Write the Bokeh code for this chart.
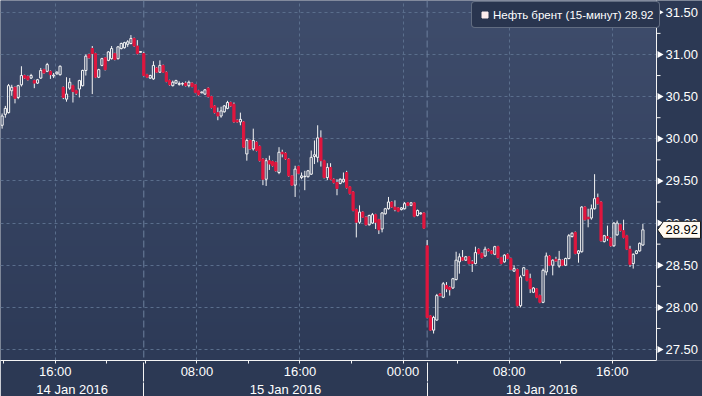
import math
import numpy as np
from bokeh.plotting import figure
from bokeh.models import (Range1d, LinearAxis, FixedTicker, Span, Legend, LegendItem)
from bokeh.core.properties import value
from bokeh.embed import file_html
from bokeh.resources import INLINE

# ---------------- data (open, high, low, close), 15-minute bars ----------------
jan14 = [
    (30.16, 30.30, 30.12, 30.27), (30.29, 30.39, 30.25, 30.36), (30.31, 30.65, 30.30, 30.63),
    (30.57, 30.64, 30.51, 30.61), (30.61, 30.62, 30.42, 30.48), (30.49, 30.64, 30.47, 30.63),
    (30.64, 30.86, 30.62, 30.75), (30.75, 30.76, 30.71, 30.72), (30.74, 30.75, 30.69, 30.70),
    (30.72, 30.77, 30.71, 30.75), (30.69, 30.70, 30.60, 30.66), (30.66, 30.71, 30.65, 30.70),
    (30.72, 30.84, 30.71, 30.81), (30.82, 30.83, 30.77, 30.78), (30.80, 30.90, 30.79, 30.88),
    (30.80, 30.81, 30.71, 30.76), (30.745, 30.78, 30.72, 30.755), (30.77, 30.80, 30.76, 30.79),
    (30.76, 30.87, 30.75, 30.86), (30.61, 30.62, 30.47, 30.49), (30.47, 30.73, 30.44, 30.53),
    (30.60, 30.72, 30.58, 30.67), (30.63, 30.64, 30.43, 30.56), (30.57, 30.58, 30.52, 30.54),
    (30.59, 30.70, 30.49, 30.69), (30.63, 30.82, 30.62, 30.81), (30.81, 31.00, 30.75, 30.98),
    (31.00, 31.01, 30.95, 30.96), (31.07, 31.10, 30.53, 31.01), (31.01, 31.02, 30.72, 30.73),
    (30.73, 30.83, 30.72, 30.82), (30.87, 30.96, 30.86, 30.95), (30.96, 30.97, 30.81, 30.82),
    (30.93, 31.04, 30.92, 31.03), (30.95, 31.10, 30.94, 31.07), (31.01, 31.02, 30.93, 30.94),
    (30.95, 31.10, 30.94, 31.09), (31.07, 31.14, 31.06, 31.13), (31.08, 31.15, 31.07, 31.14),
    (31.12, 31.17, 31.09, 31.15), (31.13, 31.23, 31.12, 31.19), (31.19, 31.20, 31.09, 31.10),
    (31.10, 31.17, 31.00, 31.01), (31.025, 31.04, 31.02, 31.035),
]
jan15 = [
    (31.01, 31.03, 30.74, 30.75), (30.76, 30.77, 30.72, 30.73), (30.72, 30.76, 30.71, 30.75),
    (30.71, 30.92, 30.70, 30.87), (30.84, 30.85, 30.78, 30.79), (30.79, 30.93, 30.78, 30.87),
    (30.87, 30.88, 30.78, 30.79), (30.79, 30.80, 30.67, 30.68), (30.69, 30.70, 30.63, 30.64),
    (30.63, 30.69, 30.62, 30.67), (30.66, 30.70, 30.65, 30.69), (30.645, 30.68, 30.63, 30.655),
    (30.65, 30.67, 30.63, 30.655), (30.66, 30.68, 30.62, 30.63), (30.63, 30.69, 30.61, 30.67),
    (30.66, 30.67, 30.61, 30.62), (30.64, 30.65, 30.54, 30.55), (30.57, 30.58, 30.51, 30.52),
    (30.545, 30.56, 30.54, 30.555), (30.53, 30.59, 30.52, 30.58), (30.60, 30.61, 30.49, 30.50),
    (30.50, 30.51, 30.36, 30.37), (30.39, 30.40, 30.30, 30.31), (30.31, 30.37, 30.22, 30.27),
    (30.27, 30.38, 30.25, 30.33), (30.32, 30.40, 30.31, 30.39), (30.36, 30.45, 30.35, 30.43),
    (30.43, 30.44, 30.38, 30.39), (30.41, 30.43, 30.19, 30.20), (30.22, 30.23, 30.19, 30.20),
    (30.20, 30.31, 30.16, 30.23), (30.20, 30.21, 29.89, 29.90), (29.82, 30.00, 29.74, 29.98),
    (29.98, 29.99, 29.87, 29.88), (29.88, 30.12, 29.86, 29.98), (29.96, 29.97, 29.85, 29.86),
    (29.91, 29.92, 29.73, 29.74), (29.76, 29.77, 29.45, 29.52), (29.52, 29.77, 29.44, 29.74),
    (29.74, 29.80, 29.63, 29.70), (29.73, 29.74, 29.67, 29.68), (29.72, 29.73, 29.61, 29.62),
    (29.60, 29.90, 29.58, 29.84), (29.84, 29.87, 29.78, 29.82), (29.83, 29.84, 29.75, 29.76),
    (29.76, 29.77, 29.55, 29.56), (29.56, 29.57, 29.44, 29.45), (29.45, 29.68, 29.31, 29.64),
    (29.67, 29.68, 29.58, 29.59), (29.54, 29.60, 29.52, 29.56), (29.55, 29.62, 29.39, 29.555),
    (29.55, 29.63, 29.54, 29.62), (29.58, 29.86, 29.57, 29.78), (29.79, 29.98, 29.70, 29.81),
    (29.78, 30.16, 29.72, 30.01), (30.01, 30.10, 29.67, 29.74), (29.74, 29.75, 29.53, 29.54),
    (29.54, 29.71, 29.51, 29.66), (29.66, 29.71, 29.51, 29.52), (29.52, 29.53, 29.47, 29.48),
    (29.48, 29.52, 29.33, 29.41), (29.47, 29.53, 29.46, 29.52), (29.49, 29.60, 29.48, 29.52),
    (29.60, 29.62, 29.41, 29.42), (29.43, 29.44, 29.34, 29.35), (29.37, 29.38, 29.14, 29.15),
    (29.16, 29.17, 28.83, 29.01), (29.01, 29.21, 28.99, 29.13), (29.13, 29.14, 29.06, 29.07),
    (29.07, 29.08, 28.97, 28.98), (28.98, 29.10, 28.97, 29.09), (29.00, 29.12, 28.99, 29.10),
    (29.10, 29.11, 28.93, 29.01), (29.04, 29.05, 28.87, 28.92), (28.93, 29.13, 28.89, 29.12),
    (29.11, 29.18, 29.10, 29.17), (29.17, 29.31, 29.16, 29.25), (29.25, 29.26, 29.18, 29.19),
    (29.19, 29.27, 29.14, 29.16), (29.18, 29.19, 29.13, 29.14), (29.16, 29.19, 29.15, 29.18),
    (29.17, 29.25, 29.16, 29.23), (29.24, 29.25, 29.20, 29.21), (29.21, 29.25, 29.20, 29.24),
    (29.24, 29.25, 29.07, 29.08), (29.09, 29.16, 29.08, 29.15), (29.11, 29.13, 29.10, 29.12),
    (29.12, 29.13, 28.93, 28.94),
]
jan18 = [
    (28.73, 28.80, 27.87, 27.88), (27.90, 27.91, 27.72, 27.73), (27.73, 27.90, 27.69, 27.88),
    (27.85, 28.16, 27.84, 28.14), (28.16, 28.17, 28.13, 28.14), (28.12, 28.30, 28.11, 28.28),
    (28.26, 28.30, 28.18, 28.22), (28.24, 28.25, 28.14, 28.21), (28.23, 28.35, 28.22, 28.34),
    (28.33, 28.66, 28.32, 28.56), (28.54, 28.64, 28.40, 28.60), (28.59, 28.68, 28.55, 28.56),
    (28.56, 28.61, 28.55, 28.60), (28.60, 28.61, 28.51, 28.52), (28.54, 28.56, 28.42, 28.52),
    (28.52, 28.72, 28.51, 28.65), (28.69, 28.70, 28.63, 28.64), (28.64, 28.65, 28.58, 28.59),
    (28.61, 28.72, 28.60, 28.69), (28.69, 28.70, 28.66, 28.67), (28.67, 28.68, 28.63, 28.64),
    (28.63, 28.73, 28.62, 28.72), (28.72, 28.73, 28.58, 28.59), (28.59, 28.60, 28.51, 28.52),
    (28.54, 28.63, 28.53, 28.62), (28.63, 28.64, 28.57, 28.58), (28.58, 28.59, 28.44, 28.45),
    (28.43, 28.50, 28.42, 28.46), (28.45, 28.46, 28.01, 28.02), (28.02, 28.38, 28.00, 28.36),
    (28.38, 28.48, 28.37, 28.47), (28.44, 28.45, 28.31, 28.32), (28.34, 28.40, 28.17, 28.22),
    (28.18, 28.24, 28.17, 28.23), (28.22, 28.23, 28.11, 28.12), (28.14, 28.15, 28.05, 28.06),
    (28.06, 28.46, 28.05, 28.44), (28.42, 28.65, 28.38, 28.61), (28.61, 28.62, 28.49, 28.50),
    (28.50, 28.57, 28.38, 28.56), (28.57, 28.60, 28.54, 28.55), (28.49, 28.67, 28.47, 28.57),
    (28.56, 28.57, 28.49, 28.50), (28.50, 28.59, 28.49, 28.58), (28.58, 28.87, 28.57, 28.85),
    (28.84, 28.89, 28.83, 28.88), (28.89, 28.90, 28.63, 28.64), (28.64, 28.68, 28.53, 28.67),
    (28.66, 29.20, 28.65, 29.19), (29.19, 29.20, 29.03, 29.04), (29.07, 29.17, 28.95, 29.05),
    (29.06, 29.22, 29.04, 29.17), (29.17, 29.58, 29.16, 29.29), (29.30, 29.35, 29.22, 29.23),
    (29.25, 29.26, 28.78, 28.79), (28.78, 28.86, 28.77, 28.85), (28.84, 28.97, 28.79, 28.82),
    (28.82, 28.83, 28.72, 28.73), (28.73, 29.01, 28.72, 29.00), (28.86, 29.03, 28.85, 29.00),
    (28.98, 28.99, 28.90, 28.91), (28.91, 29.04, 28.82, 28.83), (28.85, 28.86, 28.68, 28.69),
    (28.69, 28.73, 28.48, 28.51), (28.52, 28.64, 28.46, 28.63), (28.64, 28.68, 28.63, 28.67),
    (28.67, 28.77, 28.66, 28.76), (28.74, 28.99, 28.73, 28.92),
]
session_names = ["14 Jan 2016", "15 Jan 2016", "18 Jan 2016"]
session_start_hours = [11.75, 3.75, 1.5]      # time of the first 15-minute bar
y_ticks = [27.5, 28.0, 28.5, 29.0, 29.5, 30.0, 30.5, 31.0, 31.5]
series_name = "Нефть брент (15-минут)"

# ---------------- geometry / style ----------------
W = 702
PW, FH = 656, 360           # plot area (left of the price scale)
BAR_PX = 3.22
x_lo = -0.5
y_lo, y_hi = 27.37, 31.64
FONT = "Liberation Sans"
WHITE = "#f4f4f4"
RED = "#e0163e"
GRID = "#5a6e8c"
BORDER = "#2c3954"


def xd(px):
    return x_lo + px / BAR_PX


def yd(px):
    return (y_hi - y_lo) * px / FH


x_plot_hi = xd(PW)
x_hi = xd(W)

sessions = [jan14, jan15, jan18]
rows = [r for s in sessions for r in s]
o, h, l, c = (np.array(v, dtype=float) for v in zip(*rows))
x = np.arange(len(rows), dtype=float)
up = c >= o
top = np.maximum(o, c)
bot = np.minimum(o, c)
last_price = float(c[-1])

starts = []
acc = 0
for s in sessions:
    starts.append(acc)
    acc += len(s)

# time ticks every 4h, labels every 8h
major_ticks, tick_labels, grid_ticks = [], {}, []
for s0, hr0, s in zip(starts, session_start_hours, sessions):
    end_hr = hr0 + len(s) * 0.25
    hh = math.ceil(hr0 / 4) * 4
    while hh < end_hr:
        pos = s0 + (hh - hr0) * 4 - 0.5
        major_ticks.append(pos)
        if hh % 8 == 0:
            tick_labels[pos] = f"{int(hh % 24):02d}:00"
            grid_ticks.append(pos)
        else:
            tick_labels[pos] = ""
        hh += 4

seps = [float(v) for v in starts[1:]]
edges = [x_lo] + seps + [x_plot_hi]
day_centers = [round((edges[i] + edges[i + 1]) / 2, 2) for i in range(len(sessions))]

# ---------------- figure ----------------
p = figure(frame_width=W, frame_height=FH,
           x_range=Range1d(x_lo, x_hi), y_range=Range1d(y_lo, y_hi),
           y_axis_location=None, output_backend="svg", toolbar_location=None,
           min_border_left=0, min_border_top=0, min_border_right=0, min_border_bottom=36,
           background_fill_color="#35425f", border_fill_color=BORDER,
           outline_line_color=None)

# gradient background of the plot area
H = 256
t = np.linspace(0.0, 1.0, H)[:, None]
c_bot = np.array([0x2d, 0x3a, 0x57], dtype=float)
c_top = np.array([0x3f, 0x4d, 0x6c], dtype=float)
rgb = (c_bot + (c_top - c_bot) * t).astype(np.uint8)
img = np.empty((H, 1), dtype=np.uint32)
view = img.view(dtype=np.uint8).reshape((H, 1, 4))
view[:, 0, 0] = rgb[:, 0]
view[:, 0, 1] = rgb[:, 1]
view[:, 0, 2] = rgb[:, 2]
view[:, 0, 3] = 255
p.image_rgba(image=[img], x=x_lo, y=y_lo, dw=x_plot_hi - x_lo, dh=y_hi - y_lo, level="image")

# grids
p.ygrid.ticker = FixedTicker(ticks=y_ticks)
p.ygrid.grid_line_color = GRID
p.ygrid.grid_line_dash = "3 3"
p.xgrid.ticker = FixedTicker(ticks=grid_ticks)
p.xgrid.grid_line_color = GRID
p.xgrid.grid_line_dash = "3 3"
for sp in seps:
    p.add_layout(Span(location=sp, dimension="height", line_color="#6c7f9c",
                      line_dash="7 3", line_width=1, level="underlay"))

# candles
bw = 0.68
wx = np.concatenate([x, x])
wy0 = np.concatenate([top, l])
wy1 = np.concatenate([h, bot])
p.segment(x0=wx, y0=wy0, x1=wx, y1=wy1, line_color=WHITE, line_width=1)
p.vbar(x=x[up], width=bw, top=top[up], bottom=bot[up], fill_alpha=0,
       line_color=WHITE, line_width=1)
p.vbar(x=x[~up], width=bw, top=top[~up], bottom=bot[~up], fill_color=RED,
       line_color=RED, line_width=1)

# ---------------- price scale on the right ----------------
p.quad(left=x_plot_hi, right=x_hi, bottom=y_lo, top=y_hi, fill_color=BORDER, line_color=None)
p.add_layout(Span(location=x_plot_hi, dimension="height", line_color=WHITE, line_width=1))
minor_y = [(a + b) / 2 for a, b in zip(y_ticks[:-1], y_ticks[1:])]
p.segment(x0=[x_plot_hi] * len(minor_y), x1=[xd(PW + 4)] * len(minor_y), y0=minor_y, y1=minor_y,
          line_color=WHITE, line_width=1)
p.scatter(x=[xd(PW + 3)] * len(y_ticks), y=y_ticks, marker="triangle", size=7,
          angle=-math.pi / 2, fill_color="#ffffff", line_color=None)
p.text(x=[xd(PW + 9)] * len(y_ticks), y=y_ticks, text=[f"{v:.2f}" for v in y_ticks],
       text_align="left", text_baseline="middle", text_color="#ffffff",
       text_font=value(FONT), text_font_size=value("13px"))

# last price tag
half = yd(8.5)
p.patch(x=[xd(PW + 1), xd(PW + 7), xd(W - 2), xd(W - 2), xd(PW + 7)],
        y=[last_price, last_price + half, last_price + half, last_price - half, last_price - half],
        fill_color="#fffaf2", line_color="#1a1a1a", line_width=1)
p.text(x=[xd(PW + 9)], y=[last_price], text=[f"{last_price:.2f}"], text_align="left",
       text_baseline="middle", text_color="#000000",
       text_font=value(FONT), text_font_size=value("13px"))

# ---------------- time axis ----------------
xax = p.xaxis[0]
xax.ticker = FixedTicker(ticks=major_ticks)
xax.major_label_overrides = tick_labels
xax.bounds = (x_lo, x_plot_hi)
xax.axis_line_color = WHITE
xax.major_tick_line_color = WHITE
xax.major_tick_in = 0
xax.major_tick_out = 3
xax.minor_tick_line_color = None
xax.major_label_standoff = 0
xax.major_label_text_color = "#ffffff"
xax.major_label_text_font = FONT
xax.major_label_text_font_size = "13px"

# day axis (labels + upper part of the session separators)
dax = LinearAxis(ticker=FixedTicker(ticks=day_centers, minor_ticks=seps))
dax.major_label_overrides = {cx: nm for cx, nm in zip(day_centers, session_names)}
dax.axis_line_color = None
dax.major_tick_line_color = None
dax.major_tick_in = 0
dax.major_tick_out = 0
dax.minor_tick_line_color = WHITE
dax.minor_tick_in = 19
dax.minor_tick_out = 0
dax.major_label_standoff = 0
dax.major_label_text_color = "#ffffff"
dax.major_label_text_font = FONT
dax.major_label_text_font_size = "13px"
p.add_layout(dax, "below")

# lower part of the session separators
sax = LinearAxis(ticker=FixedTicker(ticks=[], minor_ticks=seps))
sax.axis_line_color = None
sax.major_tick_line_color = None
sax.major_tick_in = 0
sax.major_tick_out = 0
sax.minor_tick_line_color = WHITE
sax.minor_tick_in = 17
sax.minor_tick_out = 0
sax.major_label_standoff = 0
sax.major_label_text_font_size = "1px"
p.add_layout(sax, "below")

# legend (swatch renderer holds one invisible NaN point so the legend can draw it)
swatch = p.scatter(x=[float("nan")], y=[float("nan")], marker="square", size=9,
                   fill_color="#fdeeee", line_color="#fdeeee")
legend = Legend(items=[LegendItem(label=f"{series_name} {last_price:.2f}", renderers=[swatch])],
                location=(471, 332))
legend.background_fill_color = "#29354f"
legend.background_fill_alpha = 1
legend.border_line_color = "#9aa3b3"
legend.border_line_width = 1
legend.label_text_color = "#ffffff"
legend.label_text_font = FONT
legend.label_text_font_size = "11.5px"
legend.glyph_width = 15
legend.glyph_height = 15
legend.label_height = 12
legend.label_standoff = 1
legend.padding = 5
legend.spacing = 0
legend.margin = 0
if "border_radius" in Legend.properties():
    legend.border_radius = 4
p.add_layout(legend)

open("out.html", "w").write(file_html(p, INLINE))
